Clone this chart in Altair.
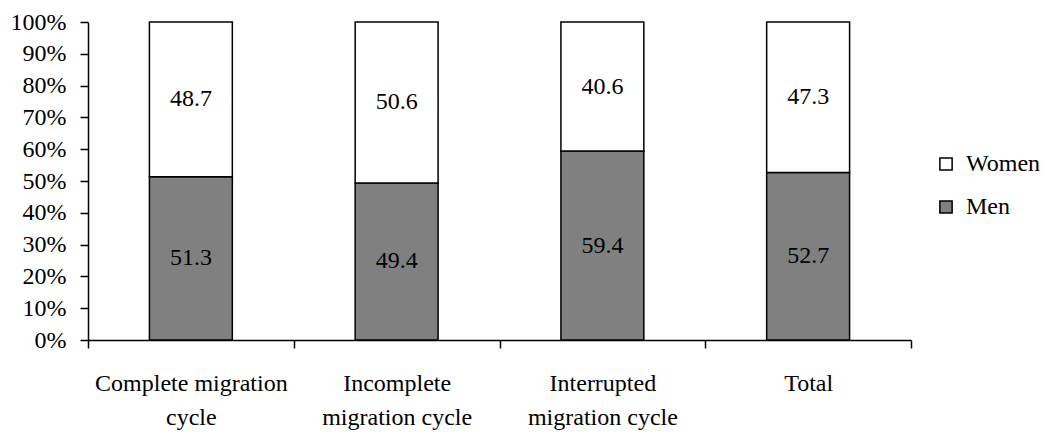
import altair as alt
import pandas as pd

categories = ["Complete migration cycle", "Incomplete migration cycle",
              "Interrupted migration cycle", "Total"]
men = [51.3, 49.4, 59.4, 52.7]
women = [48.7, 50.6, 40.6, 47.3]
series = ["Women", "Men"]

rows = []
for i, c in enumerate(categories):
    rows.append({"category": c, "sex": "Men", "value": men[i], "order": 0})
    rows.append({"category": c, "sex": "Women", "value": women[i], "order": 1})
df = pd.DataFrame(rows)

FONT = "Liberation Serif"
FS = 24

label_expr = (
    "datum.value == 'Complete migration cycle' ? ['Complete migration', 'cycle'] : "
    "datum.value == 'Incomplete migration cycle' ? ['Incomplete', 'migration cycle'] : "
    "datum.value == 'Interrupted migration cycle' ? ['Interrupted', 'migration cycle'] : "
    "datum.value"
)

base = alt.Chart(df).transform_stack(
    stack="value", groupby=["category"], as_=["y0", "y1"],
    sort=[alt.SortField("order", "ascending")]
).transform_calculate(mid="(datum.y0 + datum.y1) / 2")

x_axis = alt.Axis(
    labelAngle=0, labelExpr=label_expr, labelFont=FONT, labelFontSize=FS,
    labelColor="black", labelPadding=23, labelLineHeight=34,
    labelOverlap=False, labelLimit=400,
    tickBand="extent", tickSize=8, tickColor="black", tickWidth=1.5,
    domainColor="black", domainWidth=1.5, grid=False,
)
x_scale = alt.Scale(paddingInner=0, paddingOuter=0)

y_axis = alt.Axis(
    values=list(range(0, 101, 10)), labelExpr="datum.value + '%'",
    labelOverlap=False, labelBound=False, labelFlush=False,
    labelFont=FONT, labelFontSize=FS, labelColor="black", labelPadding=14,
    tickSize=8, tickColor="black", tickWidth=1.5,
    domainColor="black", domainWidth=1.5, grid=False,
)
y_scale = alt.Scale(domain=[0, 100], nice=False)

bars = base.mark_bar(
    width=alt.RelativeBandSize(0.403), stroke="black", strokeWidth=1.5
).encode(
    x=alt.X("category:N", sort=categories, title=None, scale=x_scale, axis=x_axis),
    y=alt.Y("y0:Q", title=None, scale=y_scale, axis=y_axis),
    y2="y1:Q",
    color=alt.Color(
        "sex:N", title=None,
        scale=alt.Scale(domain=series, range=["white", "#808080"]),
        legend=alt.Legend(
            orient="none", legendX=846, legendY=130,
            symbolType="square", symbolSize=150, symbolStrokeColor="black",
            symbolStrokeWidth=1.5, labelFont=FONT, labelFontSize=FS,
            labelColor="black", labelOffset=8, rowPadding=19,
        ),
    ),
)

labels = base.mark_text(font=FONT, fontSize=FS, color="black").encode(
    x=alt.X("category:N", sort=categories, title=None, scale=x_scale, axis=x_axis),
    y=alt.Y("mid:Q", title=None, scale=y_scale, axis=y_axis),
    text=alt.Text("value:Q", format=".1f"),
)

chart = alt.layer(bars, labels).properties(
    width=823, height=318,
    autosize=alt.AutoSizeParams(type="none"),
    padding={"left": 88, "top": 22, "right": 135, "bottom": 94},
    background="white",
).configure_view(stroke=None)

chart.save("out.html", embed_options={"renderer": "svg", "actions": False})
